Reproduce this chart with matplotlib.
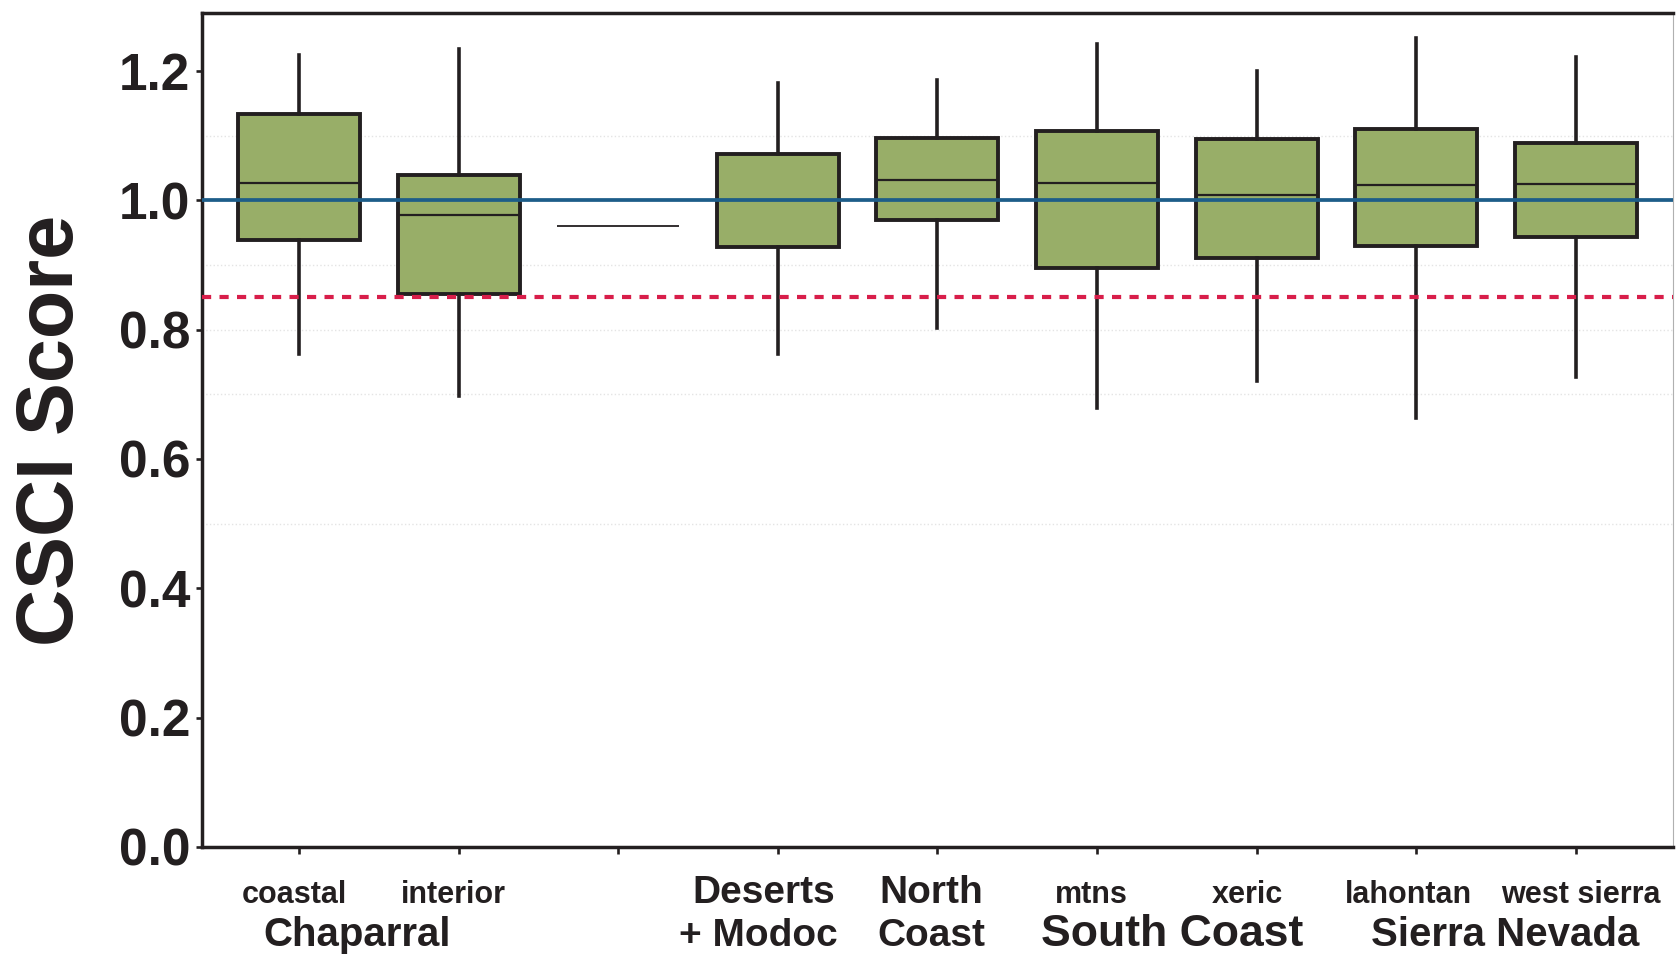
import matplotlib
matplotlib.use("Agg")
import matplotlib.pyplot as plt

# CSCI score distributions per region (whisker ends, quartiles, median)
regions = ["coastal", "interior", "", "Deserts\n+ Modoc", "North\nCoast",
           "mtns", "xeric", "lahontan", "west sierra"]
whisker_low = [0.763, 0.698, 0.960, 0.762, 0.803, 0.679, 0.720, 0.664, 0.727]
q1 = [0.938, 0.855, 0.960, 0.928, 0.970, 0.895, 0.911, 0.929, 0.944]
median = [1.027, 0.978, 0.960, 1.000, 1.031, 1.027, 1.008, 1.024, 1.026]
q3 = [1.134, 1.039, 0.960, 1.071, 1.097, 1.107, 1.095, 1.111, 1.089]
whisker_high = [1.225, 1.234, 0.960, 1.181, 1.186, 1.242, 1.200, 1.251, 1.221]

groups = ["Chaparral", "South Coast", "Sierra Nevada"]
reference_score = 1.0
threshold_score = 0.85
y_ticks = [0.0, 0.2, 0.4, 0.6, 0.8, 1.0, 1.2]
grid_levels = [0.5, 0.7, 0.8, 0.9, 1.1]

# layout
positions = list(range(1, len(regions) + 1))
label_x = [0.97, 1.965, 3.0, 3.91, 4.96, 5.965, 6.94, 7.955, 9.03]
second_line_x = {3: 3.875, 4: 4.96}
group_x = [1.36, 6.47, 8.56]
group_size = [29, 32, 29]

INK = "#231f20"
GREEN = "#98ae68"
BLUE = "#1d5d89"
RED = "#d81e4a"

plt.rcParams["font.family"] = ["Liberation Sans", "DejaVu Sans"]
plt.rcParams["font.weight"] = "bold"

fig = plt.figure(figsize=(16.76, 9.55), dpi=100)
ax = fig.add_axes([0.1205, 0.1131, 0.8777, 0.8735])

# faint background guides
for lvl in grid_levels:
    ax.axhline(lvl, color="#e4e4e4", lw=1.0, ls=":", zorder=0)

# boxes; a region with a single site only gets its median drawn
stats = []
box_pos = []
single_pos = []
for i, pos in enumerate(positions):
    if q1[i] == q3[i]:
        single_pos.append((pos, median[i]))
        continue
    stats.append(dict(whislo=whisker_low[i], q1=q1[i], med=median[i],
                      q3=q3[i], whishi=whisker_high[i], label=regions[i]))
    box_pos.append(pos)

box_w = 0.765
ax.bxp(stats, positions=box_pos, widths=box_w, patch_artist=True,
       showcaps=False, showfliers=False, manage_ticks=False,
       boxprops=dict(facecolor=GREEN, edgecolor=INK, linewidth=2.8),
       whiskerprops=dict(color=INK, linewidth=2.6),
       medianprops=dict(color=INK, linewidth=1.6), zorder=2)
for pos, val in single_pos:
    ax.hlines(val, pos - box_w / 2, pos + box_w / 2, color=INK, lw=1.3, zorder=2)

# reference and impairment threshold lines
ax.axhline(reference_score, color=BLUE, lw=2.7, zorder=4)
ax.axhline(threshold_score, color=RED, lw=3.0, ls=(0, (2.2, 2.0)),
           dash_capstyle="butt", zorder=4)

ax.set_xlim(0.39, 9.61)
ax.set_ylim(0, 1.29)

ax.set_xticks(positions)
ax.set_xticklabels([])
ax.tick_params(axis="x", length=5, width=1.9, color=INK, direction="out")
ax.set_yticks(y_ticks)
ax.set_yticklabels([f"{v:.1f}" for v in y_ticks])
ax.tick_params(axis="y", labelsize=37, length=4.5, width=1.9, pad=4,
               color=INK, labelcolor=INK)

for side in ["left", "top", "bottom"]:
    ax.spines[side].set_linewidth(2.5)
    ax.spines[side].set_color(INK)
ax.spines["right"].set_linewidth(0.8)
ax.spines["right"].set_color("#b0b0b0")

ax.set_ylabel("CSCI Score", fontsize=57, fontweight="bold", color=INK)
ax.yaxis.set_label_coords(-0.076, 0.5)

# region labels under the ticks, group names below them
xtr = ax.get_xaxis_transform()
row1, row2 = -0.067, -0.119
for i, name in enumerate(regions):
    if not name:
        continue
    lines = name.split("\n")
    if len(lines) == 1:
        ax.text(label_x[i], row1, name, transform=xtr, ha="center",
                va="baseline", fontsize=22, color=INK, clip_on=False)
    else:
        ax.text(label_x[i], row1, lines[0], transform=xtr, ha="center",
                va="baseline", fontsize=28, color=INK, clip_on=False)
        ax.text(second_line_x[i], row2, lines[1], transform=xtr, ha="center",
                va="baseline", fontsize=28, color=INK, clip_on=False)

for x, name, size in zip(group_x, groups, group_size):
    ax.text(x, row2, name, transform=xtr, ha="center", va="baseline",
            fontsize=size, color=INK, clip_on=False)

fig.savefig("out.png", dpi=100)
